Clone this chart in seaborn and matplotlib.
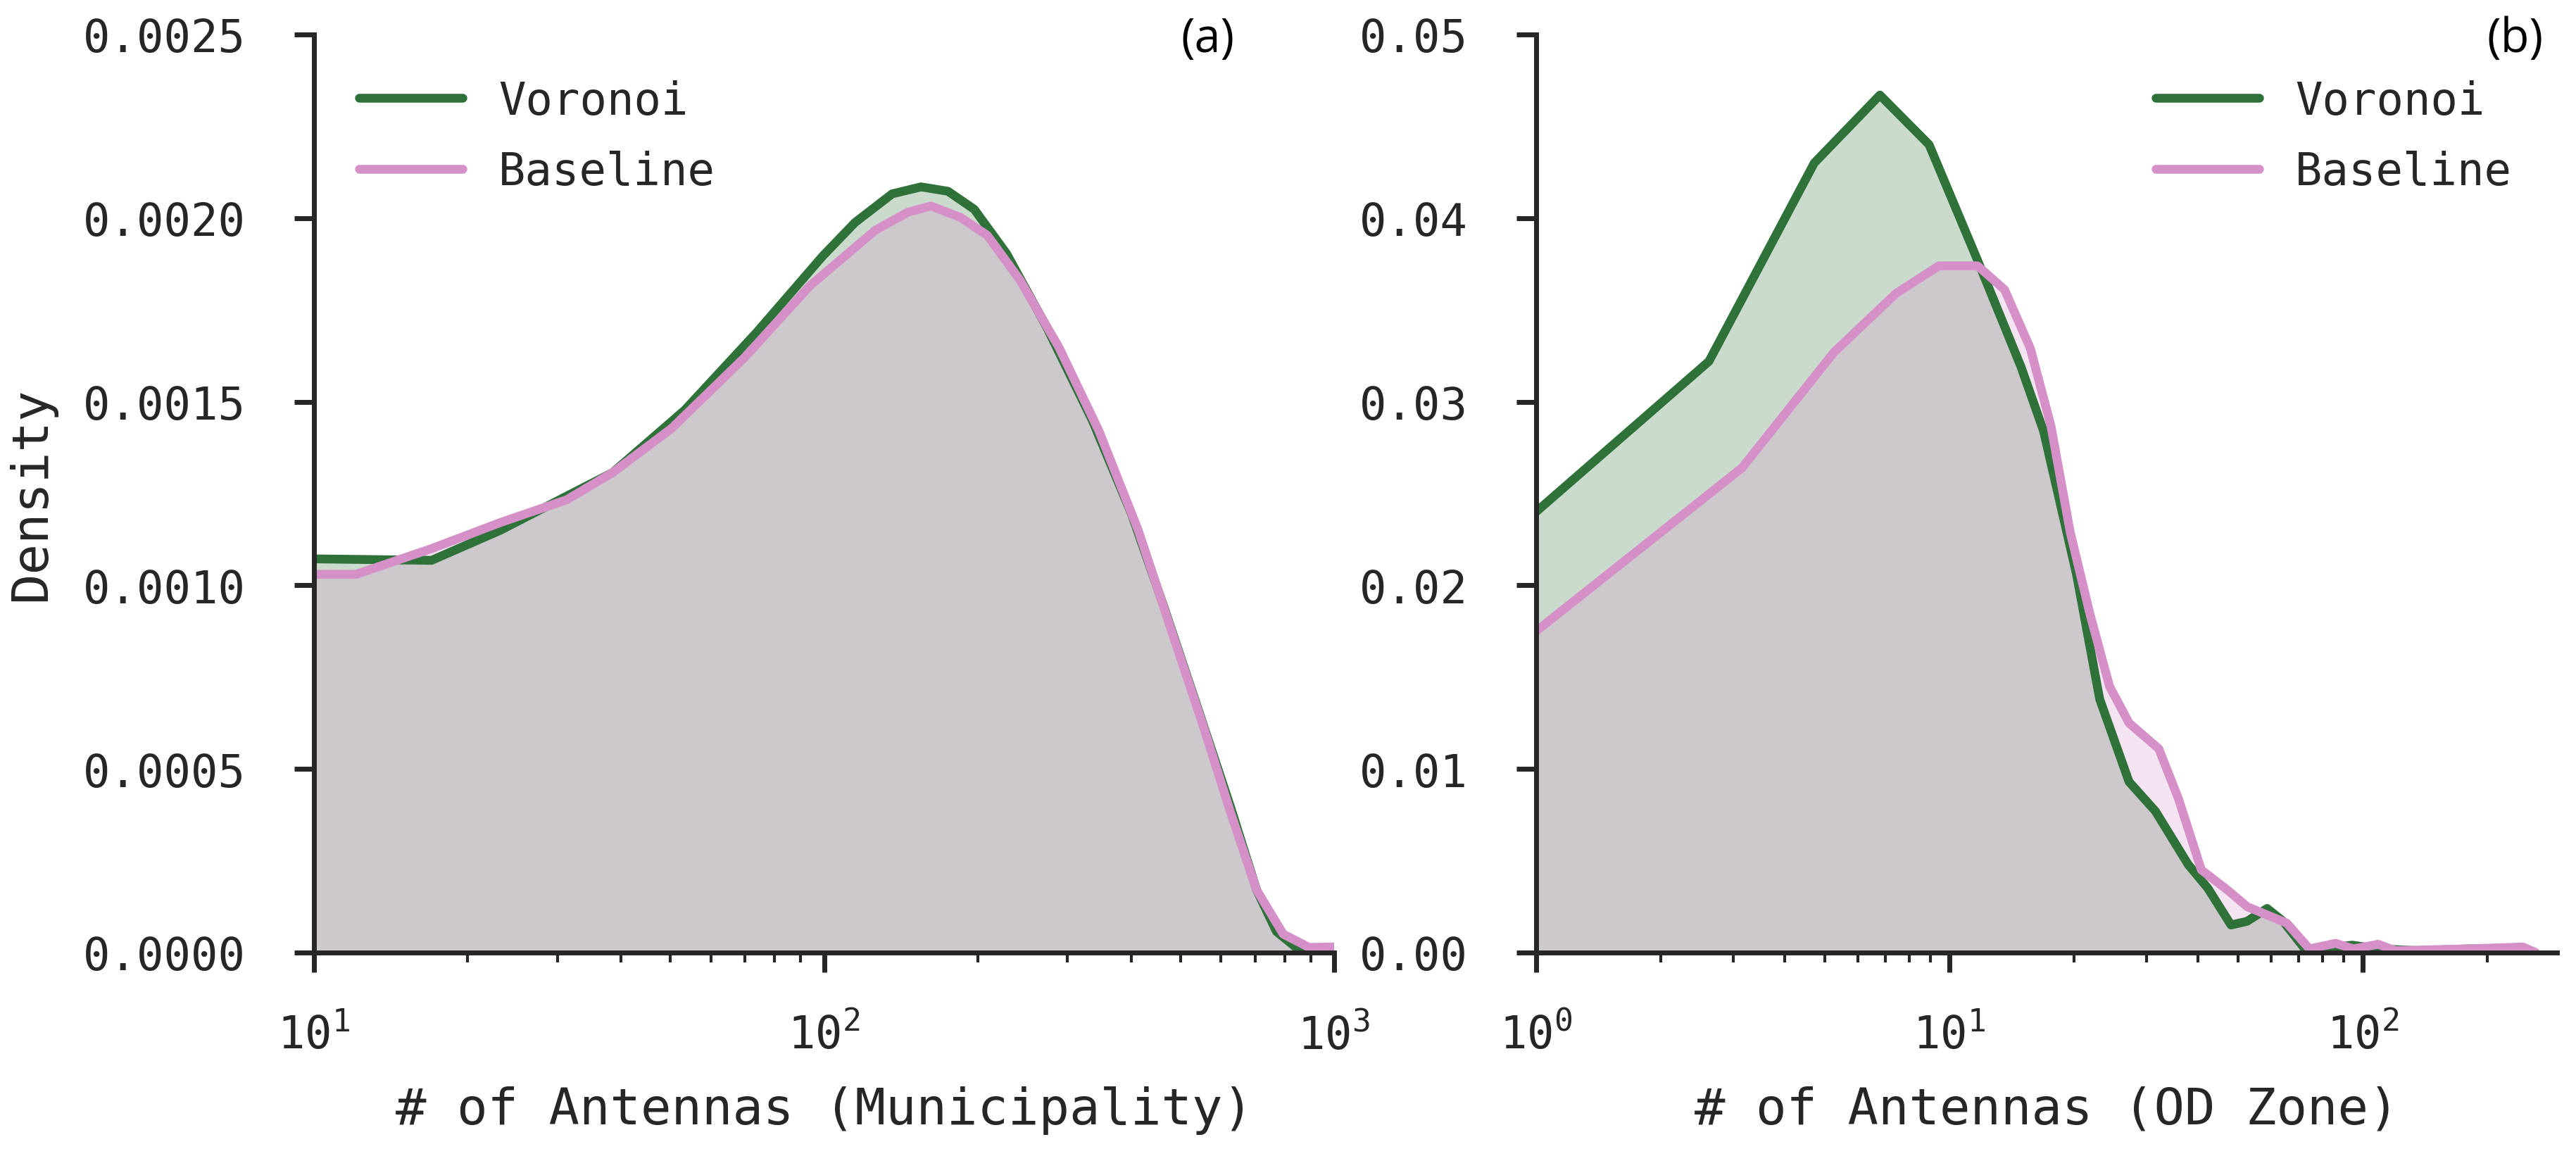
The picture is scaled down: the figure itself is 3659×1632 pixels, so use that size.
import numpy as np
import seaborn as sns
import matplotlib.pyplot as plt

# municipality panel (a)
mun_x_vor = [10, 17.0, 23.2, 31.3, 38.5, 53.3, 73.9, 99.3, 115, 136, 155, 175, 197,
             228, 273, 336, 401, 465, 540, 626, 705, 771, 842, 1000]
mun_y_vor = [1.072e-3, 1.068e-3, 1.15e-3, 1.243e-3, 1.307e-3, 1.477e-3, 1.69e-3,
             1.896e-3, 1.988e-3, 2.066e-3, 2.085e-3, 2.073e-3, 2.024e-3, 1.903e-3,
             1.704e-3, 1.448e-3, 1.193e-3, 9.37e-4, 6.67e-4, 3.98e-4, 1.70e-4,
             5.7e-5, 1.4e-5, 5e-6]
mun_x_base = [10, 12.1, 17.0, 23.2, 31.3, 38.5, 50.2, 69.7, 93.7, 126, 146, 162, 185,
              209, 242, 289, 346, 413, 479, 556, 626, 705, 795, 893, 1000]
mun_y_base = [1.03e-3, 1.03e-3, 1.10e-3, 1.171e-3, 1.233e-3, 1.307e-3, 1.427e-3,
              1.619e-3, 1.815e-3, 1.967e-3, 2.016e-3, 2.033e-3, 2.002e-3, 1.953e-3,
              1.832e-3, 1.647e-3, 1.42e-3, 1.15e-3, 8.8e-4, 6.1e-4, 3.83e-4, 1.70e-4,
              5e-5, 1.4e-5, 1.5e-5]

# OD zone panel (b)
od_x_vor = [1, 2.62, 4.71, 6.79, 8.93, 11.7, 14.9, 16.9, 20.3, 23.1, 27.2, 31.5, 37.8,
            42.2, 48, 52.5, 58.7, 64.2, 73, 94.3, 109, 136, 182, 253]
od_y_vor = [0.0240, 0.0322, 0.0430, 0.0467, 0.0440, 0.0377, 0.0319, 0.0284, 0.0206,
            0.0138, 0.0093, 0.0077, 0.0048, 0.0035, 0.0015, 0.0017, 0.0024, 0.0017,
            0.0001, 0.0004, 0.0002, 0.0001, 0.0002, 0.0001]
od_x_base = [1, 3.15, 5.26, 7.43, 9.43, 11.7, 13.6, 15.7, 17.6, 19.6, 21.9, 24.4, 27.2,
             32.1, 35.8, 40.7, 47.1, 52.5, 65.5, 74.3, 86, 95, 109, 120, 180, 244, 262]
od_y_base = [0.0175, 0.0264, 0.0327, 0.0359, 0.0374, 0.0374, 0.0361, 0.0329, 0.0287,
             0.0229, 0.0184, 0.0145, 0.0125, 0.0111, 0.0084, 0.0045, 0.0034, 0.0025,
             0.0016, 0.0002, 0.0005, 0.0002, 0.00045, 0.0001, 0.0002, 0.0003, 0.0]

labels = ["Voronoi", "Baseline"]
colors = ["#2e723a", "#d590c8"]
dark = "#262626"

sns.set_theme(style="ticks")
plt.rcParams['font.family'] = ['DejaVu Sans Mono']
plt.rcParams['axes.edgecolor'] = dark
plt.rcParams['text.color'] = dark
plt.rcParams['xtick.color'] = dark
plt.rcParams['ytick.color'] = dark

fig = plt.figure(figsize=(18.295, 8.165), dpi=200)
ax_a = fig.add_axes([0.1219, 0.1709, 0.396, 0.7985])
ax_b = fig.add_axes([0.5963, 0.1709, 0.3963, 0.7985])


def panel(ax, curves, xlim, ylim, xlabel, tag, tag_x, legend_loc):
    ax.set_xscale('log')
    # fills first, lines on top
    for (x, y), c in zip(curves, colors):
        ax.fill_between(x, y, color=c, alpha=0.25, lw=0)
    for (x, y), c, lab in zip(curves, colors, labels):
        sns.lineplot(x=x, y=y, ax=ax, color=c, lw=4.5, label=lab,
                     estimator=None, sort=False)
    ax.set_xlim(*xlim)
    ax.set_ylim(*ylim)
    ax.set_xlabel(xlabel, fontsize=26, labelpad=14)
    ax.tick_params(axis='both', which='major', length=10, width=2.5, labelsize=23)
    ax.tick_params(axis='x', which='major', pad=21)
    ax.tick_params(axis='y', which='major', pad=25)
    ax.tick_params(axis='x', which='minor', length=5, width=1.5)
    for s in ['left', 'bottom']:
        ax.spines[s].set_linewidth(2.5)
    sns.despine(ax=ax)
    ax.legend(loc=legend_loc, frameon=False, fontsize=23, handlelength=2.3,
              handletextpad=0.8, labelspacing=0.6, borderaxespad=0.6)
    ax.text(tag_x, 0.995, tag, transform=ax.transAxes, ha='center', va='center',
            fontsize=24, family=['Open Sans', 'DejaVu Sans'], color='black')


panel(ax_a, [(mun_x_vor, mun_y_vor), (mun_x_base, mun_y_base)], (10, 1000), (0, 0.0025),
      "# of Antennas (Municipality)", "(a)", 0.876, 'upper left')
panel(ax_b, [(od_x_vor, od_y_vor), (od_x_base, od_y_base)], (1, 295), (0, 0.05),
      "# of Antennas (OD Zone)", "(b)", 0.959, 'upper right')

ax_a.set_yticks(np.arange(0, 0.00251, 0.0005))
ax_b.set_yticks(np.arange(0, 0.0501, 0.01))
ax_a.set_ylabel("Density", fontsize=26, labelpad=14)
ax_b.set_ylabel("")

fig.savefig("out.png", dpi=200)
